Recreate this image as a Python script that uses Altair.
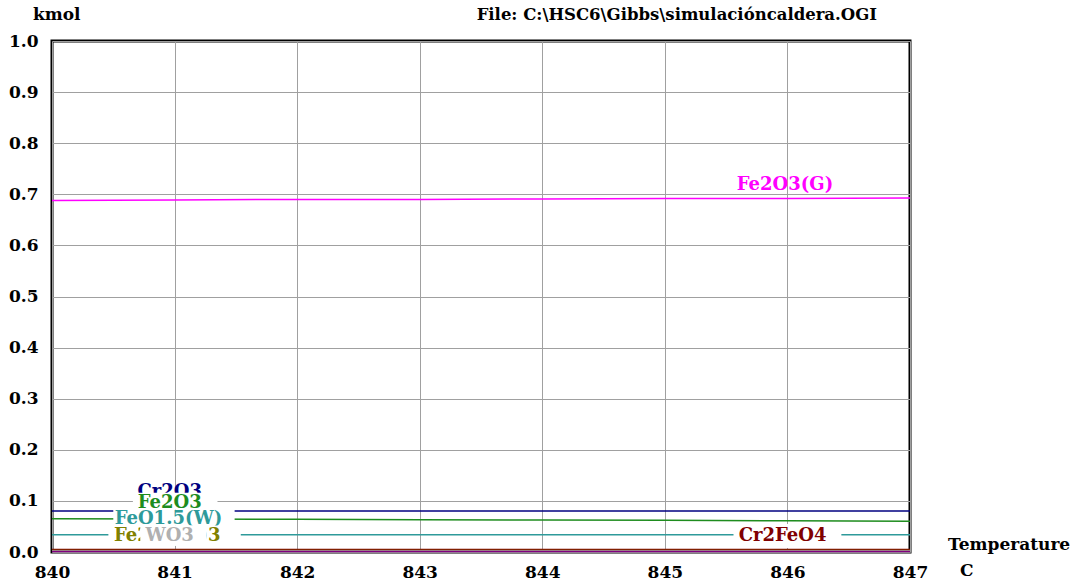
import altair as alt
import pandas as pd

# ---- data ----
temps = [840, 841, 842, 843, 844, 845, 846, 847]
series_names = ["Fe2O3(G)", "Cr2O3", "Fe2O3", "FeO1.5(W)", "Cr2FeO4", "Fe2(SO4)3", "WO3", "FeCr2O4"]
series_colors = ["#FF00FF", "#000080", "#1E8C1E", "#2E9A9A", "#800000", "#808000", "#B0B0B0", "#800080"]
fe2o3g = [0.688, 0.689, 0.690, 0.690, 0.691, 0.692, 0.692, 0.693]
cr2o3 = [0.080, 0.080, 0.080, 0.080, 0.080, 0.080, 0.080, 0.080]
fe2o3 = [0.065, 0.0645, 0.064, 0.063, 0.0625, 0.062, 0.061, 0.060]
feo15w = [0.034, 0.034, 0.034, 0.034, 0.034, 0.034, 0.034, 0.034]
cr2feo4 = [0.005, 0.005, 0.005, 0.005, 0.005, 0.005, 0.005, 0.005]
fe2so43 = [0.003, 0.003, 0.003, 0.003, 0.003, 0.003, 0.003, 0.003]
wo3 = [0.002, 0.002, 0.002, 0.002, 0.002, 0.002, 0.002, 0.002]
fecr2o4 = [0.001, 0.001, 0.001, 0.001, 0.001, 0.001, 0.001, 0.001]
series_values = [fe2o3g, cr2o3, fe2o3, feo15w, cr2feo4, fe2so43, wo3, fecr2o4]

y_ticks = [0.0, 0.1, 0.2, 0.3, 0.4, 0.5, 0.6, 0.7, 0.8, 0.9, 1.0]
x_ticks = [840, 841, 842, 843, 844, 845, 846, 847]

# labels drawn in this order (later ones cover earlier ones)
label_text = ["Fe2O3(G)", "Cr2O3", "Fe2O3", "FeO1.5(W)", "Fe2(SO4)3", "WO3", "Cr2FeO4"]
label_color = ["#FF00FF", "#000080", "#1E8C1E", "#2E9A9A", "#808000", "#B0B0B0", "#800000"]
label_x = [845.98, 840.96, 840.96, 840.95, 840.94, 840.96, 845.96]
label_y = [0.718, 0.117, 0.095, 0.064, 0.031, 0.031, 0.031]
box_x1 = [845.98, 840.96, 840.66, 840.50, 840.46, 840.72, 845.56]
box_x2 = [845.98, 840.96, 841.35, 841.49, 841.54, 841.26, 846.44]
box_y1 = [0.718, 0.117, 0.083, 0.052, 0.012, 0.012, 0.008]
box_y2 = [0.718, 0.117, 0.116, 0.083, 0.052, 0.052, 0.055]

FONT = "DejaVu Serif"

rows = []
for name, vals in zip(series_names, series_values):
    for t, v in zip(temps, vals):
        rows.append({"series": name, "T": t, "kmol": v})
df = pd.DataFrame(rows)

xscale = alt.Scale(domain=[840, 847], nice=False, zero=False)
yscale = alt.Scale(domain=[0, 1], nice=False)

base_axes = alt.Chart(df).mark_line(strokeWidth=1.5).encode(
    x=alt.X("T:Q", scale=xscale,
            axis=alt.Axis(values=x_ticks, format="d", title=None, grid=True,
                          gridColor="#A0A0A0", gridWidth=1, domain=False,
                          ticks=False, labelPadding=12, labelFont=FONT, labelFlush=False,
                          labelFontSize=17, labelFontWeight="bold", labelColor="black")),
    y=alt.Y("kmol:Q", scale=yscale,
            axis=alt.Axis(values=y_ticks, format=".1f", title=None, grid=True,
                          gridColor="#A0A0A0", gridWidth=1, domain=False,
                          ticks=False, labelPadding=14, labelFont=FONT, labelFlush=False,
                          labelFontSize=17, labelFontWeight="bold", labelColor="black")),
    color=alt.Color("series:N", scale=alt.Scale(domain=series_names, range=series_colors), legend=None),
    detail="series:N",
)

layers = [base_axes]
for i in range(len(label_text)):
    ld = pd.DataFrame({"text": [label_text[i]], "x": [label_x[i]], "y": [label_y[i]],
                       "bx1": [box_x1[i]], "bx2": [box_x2[i]],
                       "by1": [box_y1[i]], "by2": [box_y2[i]]})
    if box_x1[i] != box_x2[i]:
        layers.append(alt.Chart(ld).mark_rect(fill="white").encode(
            x=alt.X("bx1:Q", scale=xscale), x2="bx2:Q",
            y=alt.Y("by1:Q", scale=yscale), y2="by2:Q"))
    layers.append(alt.Chart(ld).mark_text(font=FONT, fontSize=18, fontWeight="bold",
                                          color=label_color[i], baseline="middle",
                                          align="center").encode(
        x=alt.X("x:Q", scale=xscale), y=alt.Y("y:Q", scale=yscale), text="text:N"))

one = pd.DataFrame({"a": [0]})
def note(txt, px, py, align="left", size=17):
    return alt.Chart(one).mark_text(text=txt, font=FONT, fontSize=size, fontWeight="bold",
                                    color="black", align=align, baseline="middle").encode(
        x=alt.value(px), y=alt.value(py))

layers += [
    note("kmol", -19, -26),
    note("File: C:\\HSC6\\Gibbs\\simulacióncaldera.OGI", 825, -26, align="right", size=16.5),
    note("Temperature", 896, 504),
    note("C", 908, 530),
]

chart = alt.layer(*layers).properties(
    width=858, height=511,
    autosize=alt.AutoSizeParams(type="none"),
    padding={"left": 52, "top": 41, "right": 173, "bottom": 32},
    background="white",
).configure_view(stroke="black", strokeWidth=3)

chart.save("out.html", embed_options={"renderer": "svg", "actions": False})
